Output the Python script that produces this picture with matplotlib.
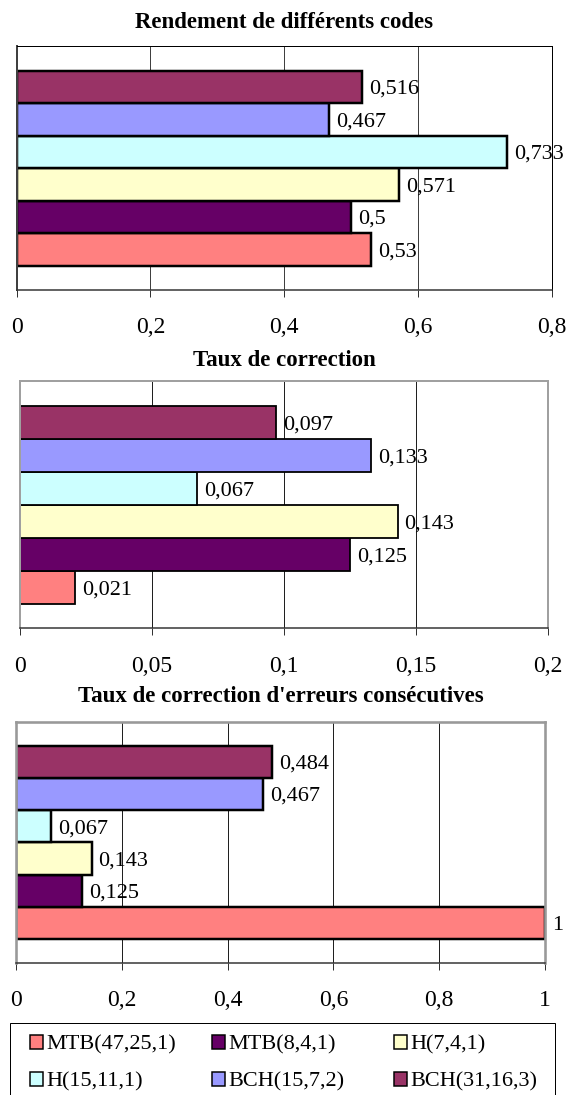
import matplotlib
matplotlib.use("Agg")
import matplotlib.pyplot as plt
from matplotlib.patches import Patch, Rectangle

plt.rcParams["font.family"] = ["Liberation Serif", "DejaVu Serif"]

# ---- data -------------------------------------------------------------
codes = ["MTB(47,25,1)", "MTB(8,4,1)", "H(7,4,1)", "H(15,11,1)", "BCH(15,7,2)", "BCH(31,16,3)"]
colors = ["#FF8080", "#660066", "#FFFFCC", "#CCFFFF", "#9999FF", "#993366"]

rendement = [0.53, 0.5, 0.571, 0.733, 0.467, 0.516]
taux_correction = [0.021, 0.125, 0.143, 0.067, 0.133, 0.097]
taux_consecutives = [1, 0.125, 0.143, 0.067, 0.467, 0.484]

titles = ["Rendement de différents codes",
          "Taux de correction",
          "Taux de correction d'erreurs consécutives"]

ticks_rendement = [0, 0.2, 0.4, 0.6, 0.8]
ticklabels_rendement = ["0", "0,2", "0,4", "0,6", "0,8"]
ticks_correction = [0, 0.05, 0.1, 0.15, 0.2]
ticklabels_correction = ["0", "0,05", "0,1", "0,15", "0,2"]
ticks_consecutives = [0, 0.2, 0.4, 0.6, 0.8, 1]
ticklabels_consecutives = ["0", "0,2", "0,4", "0,6", "0,8", "1"]

# ---- layout (pixels) --------------------------------------------------
W, H = 567, 1095
fig = plt.figure(figsize=(W / 100, H / 100), dpi=100)
PX = 0.72  # points per pixel at 100 dpi


def fig_rect(left, top, right, bottom):
    return [left / W, 1 - bottom / H, (right - left) / W, (bottom - top) / H]


panels = [
    dict(values=rendement, ticks=ticks_rendement, labels=ticklabels_rendement,
         rect=(16.5, 46, 552, 290), bars=(70.7, 265.7), title_base=28,
         edge=2.5, frame="#000000", frame_w=1.0, left_col="#404040", left_w=2.0,
         grid="#404040", pad=20),
    dict(values=taux_correction, ticks=ticks_correction, labels=ticklabels_correction,
         rect=(20, 381, 548, 628), bars=(405.7, 604), title_base=366,
         edge=1.8, frame="#A0A0A0", frame_w=2.0, left_col="#A0A0A0", left_w=2.0,
         grid="#202020", pad=21),
    dict(values=taux_consecutives, ticks=ticks_consecutives, labels=ticklabels_consecutives,
         rect=(16, 722, 545, 963), bars=(745.7, 939), title_base=702,
         edge=2.5, frame="#999999", frame_w=2.6, left_col="#999999", left_w=2.6,
         grid="#202020", pad=20),
]

n = len(codes)
positions = list(range(n))

for p, title in zip(panels, titles):
    left, top, right, bottom = p["rect"]
    ax = fig.add_axes(fig_rect(left, top, right, bottom))
    ax.set_axisbelow(True)

    ax.barh(positions, p["values"], height=1.0, color=colors,
            edgecolor="black", linewidth=p["edge"] * PX, zorder=2)

    # vertical extent so that the bar block sits with Excel-like margins
    b_top, b_bot = p["bars"]
    unit = (b_bot - b_top) / n
    ax.set_ylim(-0.5 - (bottom - b_bot) / unit, n - 0.5 + (b_top - top) / unit)
    ax.set_xlim(p["ticks"][0], p["ticks"][-1])

    ax.set_xticks(p["ticks"])
    ax.set_xticklabels(p["labels"])
    ax.set_yticks([])
    ax.tick_params(axis="x", direction="out", length=7 * PX, width=1.0 * PX,
                   color="#333333", pad=p["pad"] * PX, labelsize=17)
    ax.grid(axis="x", color=p["grid"], linewidth=1.0 * PX)

    for side in ("top", "right"):
        ax.spines[side].set_color(p["frame"])
        ax.spines[side].set_linewidth(p["frame_w"] * PX)
    ax.spines["left"].set_color(p["left_col"])
    ax.spines["left"].set_linewidth(p["left_w"] * PX)
    ax.spines["bottom"].set_color("#333333")
    ax.spines["bottom"].set_linewidth(1.5 * PX)

    for y, v in zip(positions, p["values"]):
        ax.annotate(f"{v:g}".replace(".", ","), xy=(v, y), xytext=(5, 0),
                    textcoords="offset points", ha="left", va="center_baseline",
                    fontsize=16, annotation_clip=False)

    fig.text((left + right) / 2 / W, 1 - p["title_base"] / H, title,
             ha="center", va="baseline", fontsize=16.5, fontweight="bold")

# ---- legend -----------------------------------------------------------
fig.patches.append(Rectangle((10 / W, -0.01), (555 - 10) / W, (H - 1023) / H + 0.01,
                             transform=fig.transFigure, facecolor="none",
                             edgecolor="black", linewidth=1.0 * PX))

handles = [Patch(facecolor=c, edgecolor="black", linewidth=1.5 * PX) for c in colors]
legend_cols = [(30, [0, 3]), (212, [1, 4]), (394, [2, 5])]
fs_leg = 16
for x, idx in legend_cols:
    fig.legend([handles[i] for i in idx], [codes[i] for i in idx],
               loc="upper left", bbox_to_anchor=(x / W, 1 - 1035 / H),
               bbox_transform=fig.transFigure, frameon=False,
               borderpad=0, borderaxespad=0, fontsize=fs_leg,
               handlelength=0.59, handleheight=0.59, handletextpad=0.14,
               labelspacing=0.77)

fig.savefig("out.png", dpi=100)
